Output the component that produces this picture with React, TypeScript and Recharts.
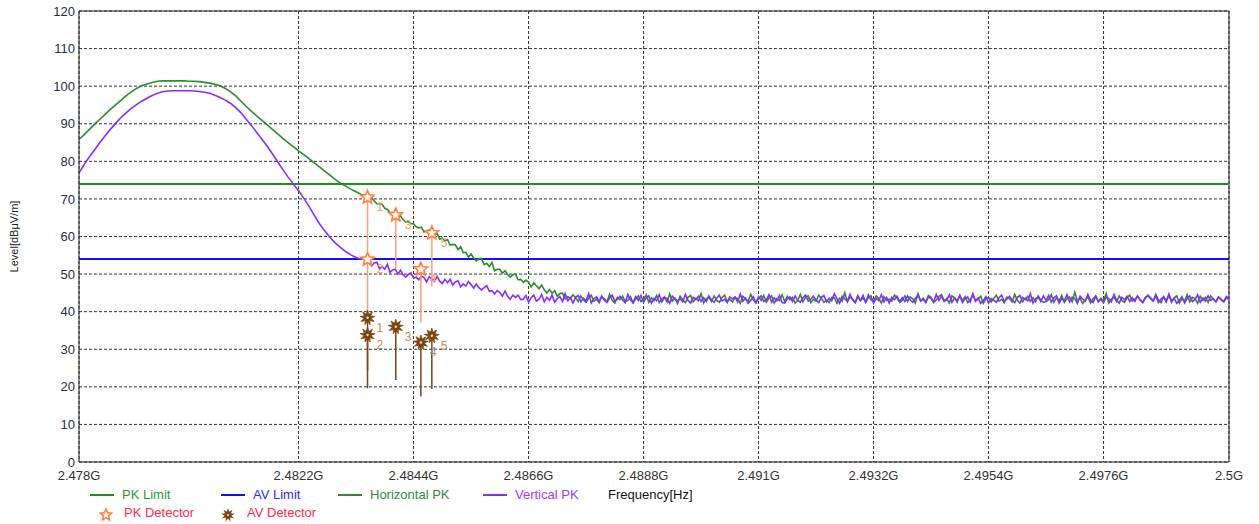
import React from 'react';
import {
  ComposedChart, Line, Scatter, XAxis, YAxis, CartesianGrid, ErrorBar, ReferenceLine,
} from 'recharts';

// ---------- axis ticks ----------
const xTickValues = [2478, 2482.2, 2484.4, 2486.6, 2488.8, 2491, 2493.2, 2495.4, 2497.6, 2500];
const xTickLabels = ['2.478G', '2.4822G', '2.4844G', '2.4866G', '2.4888G', '2.491G', '2.4932G', '2.4954G', '2.4976G', '2.5G'];
const yTickValues = [0, 10, 20, 30, 40, 50, 60, 70, 80, 90, 100, 110, 120];

// ---------- limits (dBµV/m) ----------
const limitFreqs = [2478, 2500];
const pkLimitValues = [74, 74];
const avLimitValues = [54, 54];

// ---------- sweep (MHz) ----------
// smooth part: 2478.0 .. 2483.4, step 0.1 MHz
const smoothStart = 2478.0;
const smoothStep = 0.1;
const horizontalSmooth = [
  85.8, 87.1, 88.5, 89.9, 91.2, 92.5, 93.8, 95.0, 96.2, 97.4,
  98.5, 99.4, 100.1, 100.6, 101.0, 101.3, 101.4, 101.4, 101.4, 101.4,
  101.4, 101.3, 101.3, 101.2, 101.0, 100.8, 100.5, 100.1, 99.4, 98.5,
  97.4, 96.0, 94.6, 93.3, 92.1, 90.9, 89.7, 88.5, 87.3, 86.1,
  85.0, 83.9, 82.8, 81.8, 80.7, 79.6, 78.5, 77.4, 76.3, 75.2,
  74.2, 73.4, 72.6, 71.9, 71.2,
];
const verticalSmooth = [
  76.9, 79.2, 81.2, 83.1, 85.0, 86.8, 88.5, 90.1, 91.6, 92.9,
  94.1, 95.1, 96.0, 96.8, 97.5, 98.1, 98.5, 98.7, 98.8, 98.8,
  98.8, 98.8, 98.7, 98.6, 98.4, 98.1, 97.6, 97.0, 96.3, 95.4,
  94.3, 92.9, 91.2, 89.5, 87.7, 85.9, 84.0, 82.0, 79.9, 77.8,
  75.8, 74.0, 72.2, 70.2, 68.0, 65.7, 63.4, 61.5, 59.8, 58.3,
  57.1, 56.0, 55.1, 54.4, 53.9,
];
// noisy part: 2483.5 .. 2500.0, step 0.05 MHz
const noisyStart = 2483.5;
const noisyStep = 0.05;
const horizontalNoisy = [
  70.8, 70.1, 70.3, 69.4, 68.7, 68.7, 68.5, 67.5, 67.2, 66.3, 66.4, 65.9, 65.1, 65.5, 64.5, 63.8, 64.0, 63.4, 63.4, 62.6,
  62.3, 62.5, 61.2, 61.6, 61.7, 60.5, 60.4, 60.8, 59.3, 59.6, 58.8, 59.2, 57.7, 57.9, 57.8, 56.5, 57.3, 55.7, 55.8, 54.5,
  55.4, 54.3, 53.5, 54.1, 54.1, 52.5, 52.9, 52.0, 53.1, 50.9, 51.3, 51.3, 50.2, 50.9, 49.9, 49.2, 49.8, 50.0, 48.5, 48.6,
  47.8, 48.4, 47.8, 46.6, 47.7, 46.9, 46.1, 47.1, 45.8, 45.0, 45.9, 44.9, 45.6, 44.1, 44.8, 44.9, 43.4, 44.0, 43.5, 44.5,
  43.7, 42.7, 44.2, 43.1, 42.5, 43.6, 44.4, 42.8, 43.3, 42.4, 43.9, 43.5, 42.6, 44.6, 43.0, 42.3, 43.8, 43.2, 44.1, 42.7,
  43.0, 44.0, 42.3, 43.5, 44.2, 42.7, 43.2, 44.5, 42.5, 43.7, 42.9, 44.3, 42.4, 43.4, 43.9, 42.6, 44.7, 42.8, 43.6, 42.2,
  44.1, 43.1, 42.4, 43.8, 44.3, 42.6, 43.6, 42.9, 44.8, 42.3, 43.4, 43.9, 42.7, 44.2, 43.0, 42.5, 43.7, 44.4, 42.8, 43.3,
  42.6, 43.8, 43.5, 42.2, 44.1, 43.4, 42.8, 44.6, 43.1, 42.4, 44.0, 43.0, 44.3, 42.5, 43.7, 44.2, 42.3, 43.5, 42.9, 44.5,
  42.7, 44.1, 43.2, 43.8, 42.3, 43.0, 44.6, 42.6, 43.8, 44.2, 42.4, 43.3, 42.8, 44.4, 43.6, 42.5, 43.1, 42.4, 43.8, 43.7,
  42.2, 43.6, 42.8, 45.0, 42.6, 43.9, 43.4, 42.4, 44.3, 42.9, 43.7, 42.5, 44.5, 43.2, 42.7, 44.2, 43.5, 42.3, 44.0, 43.0,
  43.3, 42.8, 44.4, 43.7, 42.5, 43.0, 44.2, 42.7, 43.9, 43.4, 42.3, 44.8, 42.9, 43.6, 42.6, 44.3, 43.8, 42.4, 43.1, 44.1,
  44.5, 42.9, 43.5, 42.3, 44.2, 43.7, 42.5, 44.3, 43.0, 44.0, 42.4, 43.1, 44.6, 42.8, 43.4, 44.1, 42.2, 43.5, 43.8, 42.6,
  43.6, 44.4, 42.8, 43.3, 42.4, 43.9, 43.5, 42.6, 44.6, 43.0, 42.3, 43.8, 43.2, 44.1, 42.7, 43.7, 42.7, 44.2, 43.1, 42.5,
  42.7, 43.2, 44.5, 42.5, 43.7, 42.9, 44.3, 42.4, 43.4, 43.9, 42.6, 45.2, 42.8, 43.6, 42.2, 43.0, 44.0, 42.3, 43.5, 44.2,
  42.6, 43.6, 42.9, 44.8, 42.3, 43.4, 43.9, 42.7, 44.2, 43.0, 42.5, 43.7, 44.4, 42.8, 43.3, 44.1, 43.1, 42.4, 43.8, 44.3,
  43.4, 42.8, 44.6, 43.1, 42.4, 44.0, 43.0, 44.3, 42.5, 43.7, 44.2, 42.3, 43.5, 42.9, 44.5, 42.6, 43.8, 43.5, 42.2, 44.1,
  43.0, 43.8, 42.5, 44.2, 43.3, 42.7, 43.9, 43.1, 42.6, 43.7, 43.2,
];
const verticalNoisy = [
  54.2, 53.1, 52.2, 53.0, 53.1, 51.4, 52.0, 51.3, 52.6, 50.4, 51.1, 51.3, 50.0, 51.0, 49.8, 49.2, 49.9, 50.3, 48.9, 49.2,
  48.5, 49.4, 49.1, 47.9, 49.3, 48.7, 48.1, 49.4, 48.1, 47.5, 48.6, 47.7, 48.6, 47.1, 47.9, 48.2, 46.6, 47.4, 46.8, 48.0,
  47.2, 46.3, 47.4, 46.4, 45.8, 46.4, 46.9, 45.4, 45.6, 44.7, 45.6, 45.1, 44.1, 45.5, 44.1, 43.3, 44.4, 43.8, 44.4, 43.2,
  43.3, 44.3, 42.5, 43.7, 44.4, 42.8, 43.3, 44.6, 42.6, 43.8, 43.0, 44.4, 42.5, 43.5, 44.0, 42.7, 44.8, 42.9, 43.7, 42.3,
  43.8, 44.3, 42.6, 43.6, 42.9, 44.8, 42.3, 43.4, 43.9, 42.7, 44.2, 43.0, 42.5, 43.7, 44.4, 42.8, 43.3, 44.1, 43.1, 42.4,
  44.6, 43.1, 42.4, 44.0, 43.0, 44.3, 42.5, 43.7, 44.2, 42.3, 43.5, 42.9, 44.5, 42.6, 43.8, 43.5, 42.2, 44.1, 43.4, 42.8,
  43.5, 42.6, 44.6, 43.0, 42.3, 43.8, 43.2, 44.1, 42.7, 43.7, 42.7, 44.2, 43.1, 42.5, 43.6, 44.4, 42.8, 43.3, 42.4, 43.9,
  43.4, 43.9, 42.6, 44.7, 42.8, 43.6, 42.2, 43.0, 44.0, 42.3, 43.5, 44.2, 42.7, 43.2, 44.5, 42.5, 43.7, 42.9, 44.3, 42.4,
  42.3, 43.4, 43.9, 42.7, 44.2, 43.0, 42.5, 43.7, 44.4, 42.8, 43.3, 44.1, 43.1, 42.4, 43.8, 44.3, 42.6, 43.6, 42.9, 44.8,
  43.5, 42.2, 44.1, 43.4, 42.8, 44.6, 43.1, 42.4, 44.0, 43.0, 44.3, 42.5, 43.7, 44.2, 42.3, 43.5, 42.9, 44.5, 42.6, 43.8,
  42.3, 43.8, 43.2, 44.1, 42.7, 43.7, 42.7, 44.2, 43.1, 42.5, 43.6, 44.4, 42.8, 43.3, 42.4, 43.9, 43.5, 42.6, 44.6, 43.0,
  44.2, 42.7, 43.2, 44.5, 42.5, 43.7, 42.9, 44.3, 42.4, 43.4, 43.9, 42.6, 44.7, 42.8, 43.6, 42.2, 43.0, 44.0, 42.3, 43.5,
  43.0, 42.5, 43.7, 44.4, 42.8, 43.3, 44.1, 43.1, 42.4, 43.8, 44.3, 42.6, 43.6, 42.9, 44.8, 42.3, 43.4, 43.9, 42.7, 44.2,
  43.0, 44.3, 42.5, 43.7, 44.2, 42.3, 43.5, 42.9, 44.5, 42.6, 43.8, 43.5, 42.2, 44.1, 43.4, 42.8, 44.6, 43.1, 42.4, 44.0,
  42.8, 43.3, 42.4, 43.9, 43.5, 42.6, 44.6, 43.0, 42.3, 43.8, 43.2, 44.1, 42.7, 43.7, 42.7, 44.2, 43.1, 42.5, 43.6, 44.4,
  43.7, 42.9, 44.3, 42.4, 43.4, 43.9, 42.6, 44.7, 42.8, 43.6, 42.2, 43.0, 44.0, 42.3, 43.5, 44.2, 42.7, 43.2, 44.5, 42.5,
  43.6, 42.8, 44.2, 43.0, 43.5, 42.6, 43.9, 43.3, 42.7, 44.0, 43.4,
];

// ---------- detector readings ----------
const markerNumbers = [1, 2, 3, 4, 5];
const markerFreqs = [2483.52, 2483.52, 2484.06, 2484.54, 2484.75];
const pkLevels = [70.4, 53.9, 65.7, 51.3, 60.9];
const pkLows = [56.2, 39.7, 51.5, 37.1, 46.7];
const avLevels = [38.4, 33.8, 36.0, 31.8, 33.6];
const avLows = [24.2, 19.6, 21.8, 17.4, 19.4];

// ---------- build tables ----------
const traceRows: any[] = [];
horizontalSmooth.forEach((h, i) => {
  traceRows.push({ f: +(smoothStart + i * smoothStep).toFixed(2), h, v: verticalSmooth[i] });
});
horizontalNoisy.forEach((h, i) => {
  traceRows.push({ f: +(noisyStart + i * noisyStep).toFixed(2), h, v: verticalNoisy[i] });
});
const limitRows = limitFreqs.map((f, i) => ({ f, pk: pkLimitValues[i], av: avLimitValues[i] }));
const pkRows = markerFreqs.map((f, i) => ({ f, y: pkLevels[i], drop: [pkLevels[i] - pkLows[i], 0], n: markerNumbers[i] }));
const avRows = markerFreqs.map((f, i) => ({ f, y: avLevels[i], drop: [avLevels[i] - avLows[i], 0], n: markerNumbers[i] }));

const FONT = '"Liberation Sans", Arial, sans-serif';
const C_GREEN_LIMIT = '#1f8f1f';
const C_GREEN = '#2a8f2a';
const C_BLUE = '#1010ff';
const C_PURPLE = '#8a2bff';
const C_PK = '#ff8040';
const C_PK_STEM = '#f8a078';
const C_AV = '#7a4510';
const C_LEGEND_RED = '#ff2a4a';

function starPoints(cx: number, cy: number, n: number, ro: number, ri: number) {
  const pts: string[] = [];
  for (let k = 0; k < n * 2; k++) {
    const r = k % 2 === 0 ? ro : ri;
    const a = -Math.PI / 2 + (k * Math.PI) / n;
    pts.push(`${(cx + r * Math.cos(a)).toFixed(2)},${(cy + r * Math.sin(a)).toFixed(2)}`);
  }
  return pts.join(' ');
}

const PkStar = (props: any) => {
  const { cx, cy, payload } = props;
  if (cx == null || cy == null) return null;
  return (
    <g>
      <polygon points={starPoints(cx, cy, 5, 7, 3.2)} fill="#fff3ea" stroke={C_PK} strokeWidth={1.6} />
      <text x={cx + 9} y={cy + 14} fontSize={12} fontFamily={FONT} fill="#f4a070">{payload.n}</text>
    </g>
  );
};

const AvStar = (props: any) => {
  const { cx, cy, payload } = props;
  if (cx == null || cy == null) return null;
  return (
    <g>
      <polygon points={starPoints(cx, cy, 9, 7.5, 3.6)} fill={C_AV} stroke={C_AV} strokeWidth={0.8} />
      <circle cx={cx} cy={cy} r={1.2} fill="#f0d8c0" />
      <text x={cx + 9} y={cy + 14} fontSize={12} fontFamily={FONT} fill={payload.n === 4 ? '#8890b0' : '#c88a50'}>{payload.n}</text>
    </g>
  );
};

const legendLine = (color: string) => (
  <svg width={24} height={6} style={{ display: 'block' }}>
    <line x1={0} y1={3} x2={24} y2={3} stroke={color} strokeWidth={2} />
  </svg>
);

export default function App() {
  return (
    <div style={{ position: 'absolute', left: 0, top: 0, width: 1259, height: 524, background: '#fff', fontFamily: FONT }}>
      <ComposedChart
        width={1259}
        height={524}
        data={traceRows}
        margin={{ top: 11, right: 30, bottom: 0, left: 0 }}
      >
        <CartesianGrid stroke="#333" strokeDasharray="3 2" strokeWidth={1} />
        <XAxis
          type="number"
          dataKey="f"
          domain={[2478, 2500]}
          ticks={xTickValues}
          tickFormatter={(_v: number, i: number) => xTickLabels[i]}
          height={62}
          stroke="#222"
          tickLine={false}
          tickSize={0}
          tickMargin={9}
          tick={{ fontSize: 13, fill: '#333', fontFamily: FONT }}
          allowDataOverflow
        />
        <YAxis
          type="number"
          domain={[0, 120]}
          ticks={yTickValues}
          width={79}
          stroke="#222"
          tickLine={false}
          tickSize={0}
          tickMargin={4}
          tick={{ fontSize: 13, fill: '#2a2a48', fontFamily: FONT }}
          label={{
            content: (p: any) => {
              const vb = p.viewBox || { x: 0, y: 11, width: 79, height: 451 };
              const cx = vb.x + 15;
              const cy = vb.y + vb.height / 2;
              return (
                <text x={cx} y={cy} transform={`rotate(-90, ${cx}, ${cy})`} textAnchor="middle" dominantBaseline="middle" fontSize={11} fontFamily={FONT} fill="#222">
                  Level[dBμV/m]
                </text>
              );
            },
          }}
        />
        <ReferenceLine y={120} stroke="#222" strokeWidth={1} />
        <ReferenceLine x={2500} stroke="#222" strokeWidth={1} />
        <Line data={limitRows} dataKey="pk" stroke={C_GREEN_LIMIT} strokeWidth={2} dot={false} isAnimationActive={false} />
        <Line data={limitRows} dataKey="av" stroke={C_BLUE} strokeWidth={2} dot={false} isAnimationActive={false} />
        <Line dataKey="h" stroke={C_GREEN} strokeWidth={1.6} dot={false} isAnimationActive={false} />
        <Line dataKey="v" stroke={C_PURPLE} strokeWidth={1.6} dot={false} isAnimationActive={false} />
        <Scatter data={pkRows} dataKey="y" shape={PkStar} isAnimationActive={false}>
          <ErrorBar dataKey="drop" direction="y" width={0} stroke={C_PK_STEM} strokeWidth={1.5} />
        </Scatter>
        <Scatter data={avRows} dataKey="y" shape={AvStar} isAnimationActive={false}>
          <ErrorBar dataKey="drop" direction="y" width={0} stroke={C_AV} strokeWidth={1.5} />
        </Scatter>
      </ComposedChart>

      {/* legend */}
      <div style={{ position: 'absolute', left: 0, top: 0, width: 1259, height: 524, pointerEvents: 'none', fontSize: 13 }}>
        <div style={{ position: 'absolute', left: 90, top: 492 }}>{legendLine(C_GREEN_LIMIT)}</div>
        <div style={{ position: 'absolute', left: 122, top: 487, color: '#2e9b2e' }}>PK Limit</div>
        <div style={{ position: 'absolute', left: 221, top: 492 }}>{legendLine(C_BLUE)}</div>
        <div style={{ position: 'absolute', left: 253, top: 487, color: '#2a2aff' }}>AV Limit</div>
        <div style={{ position: 'absolute', left: 338, top: 492 }}>{legendLine(C_GREEN)}</div>
        <div style={{ position: 'absolute', left: 370, top: 487, color: '#2e8b3e' }}>Horizontal PK</div>
        <div style={{ position: 'absolute', left: 483, top: 492 }}>{legendLine(C_PURPLE)}</div>
        <div style={{ position: 'absolute', left: 515, top: 487, color: '#9b3bff' }}>Vertical PK</div>
        <div style={{ position: 'absolute', left: 608, top: 487, color: '#111' }}>Frequency[Hz]</div>
        <svg style={{ position: 'absolute', left: 99, top: 508 }} width={14} height={14}>
          <polygon points={starPoints(7, 7, 5, 6, 2.8)} fill="#fff3ea" stroke={C_PK} strokeWidth={1.6} />
        </svg>
        <div style={{ position: 'absolute', left: 124, top: 505, color: C_LEGEND_RED }}>PK Detector</div>
        <svg style={{ position: 'absolute', left: 220, top: 507 }} width={16} height={16}>
          <polygon points={starPoints(8, 8, 9, 7, 3.4)} fill={C_AV} />
          <circle cx={8} cy={8} r={1.1} fill="#f0d8c0" />
        </svg>
        <div style={{ position: 'absolute', left: 247, top: 505, color: C_LEGEND_RED }}>AV Detector</div>
      </div>
    </div>
  );
}
